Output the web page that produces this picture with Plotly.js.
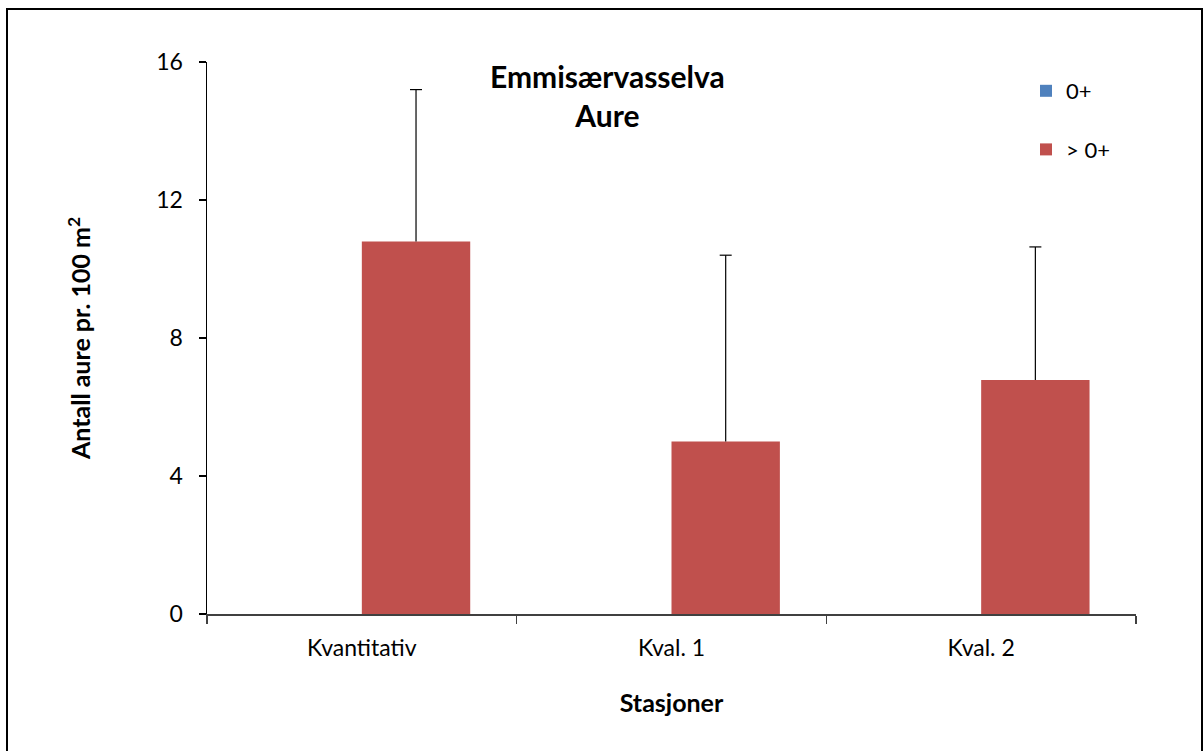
<!DOCTYPE html>
<html>
<head>
<meta charset="utf-8">
<script src="https://cdn.plot.ly/plotly-3.0.1.min.js"></script>
<style>
html,body{margin:0;padding:0;overflow:hidden;background:#fff;}
#chart{width:1203px;height:751px;position:relative;}
#frame{position:absolute;left:6px;top:8px;width:1193px;height:800px;border:2px solid #000;pointer-events:none;}
</style>
</head>
<body>
<div id="chart"></div>
<div id="frame"></div>
<script>
const categories = ["Kvantitativ", "Kval. 1", "Kval. 2"];
const seriesNames = ["0+", "> 0+"];
const values0 = [0, 0, 0];
const valuesOver0 = [10.8, 5.0, 6.78];
const errPlusOver0 = [4.4, 5.4, 3.86];
const yTicks = [0, 4, 8, 12, 16];

const font = "Lato, Calibri, 'Open Sans', sans-serif";
const plotW = 1203 - 207 - 67;
const barShift = 0.175;          // red bar centre offset within a category (fraction of category width)
const capHalf = 6 / plotW * 3;   // cap half-width in category-width units (3 categories)

const traces = [
  {type: "bar", name: seriesNames[0], x: categories, y: values0,
   marker: {color: "#4F81BD"}, legendgroup: "a"},
  {type: "bar", name: seriesNames[1], x: categories, y: valuesOver0,
   marker: {color: "#C0504D"}, legendgroup: "b"}
];

// error bars (plus direction only) drawn as shapes on the data axes
const shapes = [];
categories.forEach((c, i) => {
  const top = valuesOver0[i] + errPlusOver0[i];
  const ln = {color: "#000", width: 1.2};
  shapes.push({type: "line", xref: "x", yref: "y", x0: c, x1: c, x0shift: barShift, x1shift: barShift,
               y0: valuesOver0[i], y1: top, line: ln, layer: "above"});
  shapes.push({type: "line", xref: "x", yref: "y", x0: c, x1: c, x0shift: barShift - capHalf, x1shift: barShift + capHalf,
               y0: top, y1: top, line: ln, layer: "above"});
});

const layout = {
  width: 1203, height: 751,
  margin: {l: 207, r: 67, t: 62, b: 137},
  paper_bgcolor: "#fff", plot_bgcolor: "#fff",
  barmode: "group", bargap: 0.3, bargroupgap: 0,
  font: {family: font, size: 22, color: "#000"},
  showlegend: true,
  legend: {x: (1026 - 207) / plotW, xref: "paper", y: 1 - 8 / 552, yanchor: "top", font: {size: 22},
    traceorder: "grouped", tracegroupgap: 27, bgcolor: "rgba(0,0,0,0)", itemwidth: 30},
  xaxis: {
    type: "category", showgrid: false, zeroline: false,
    showline: true, linecolor: "#404040", linewidth: 1.5,
    ticks: "outside", tickson: "boundaries", ticklen: 8, tickcolor: "#404040", tickwidth: 1.5,
    tickfont: {size: 23}, ticklabelstandoff: 13,
    title: {text: "<b>Stasjoner</b>", font: {size: 25}, standoff: 34}
  },
  yaxis: {
    range: [0, 16], tickvals: yTicks, ticktext: yTicks.map(String),
    showgrid: false, zeroline: false,
    showline: true, linecolor: "#000", linewidth: 1.5,
    ticks: "outside", ticklen: 7, tickcolor: "#000", tickwidth: 1.5,
    tickfont: {size: 23}, ticklabelstandoff: 11,
    title: {text: "<b>Antall aure pr. 100 m<sup>2</sup></b>", font: {size: 25}, standoff: 58}
  },
  shapes: shapes,
  annotations: [
    {text: "<b>Emmisærvasselva<br>Aure</b>", xref: "paper", yref: "paper",
     x: (607 - 207) / plotW, y: 1, yanchor: "top", xanchor: "center", yshift: 6,
     showarrow: false, font: {size: 30}, align: "center"}
  ]
};

Plotly.newPlot("chart", traces, layout, {displayModeBar: false, staticPlot: true});
</script>
</body>
</html>
